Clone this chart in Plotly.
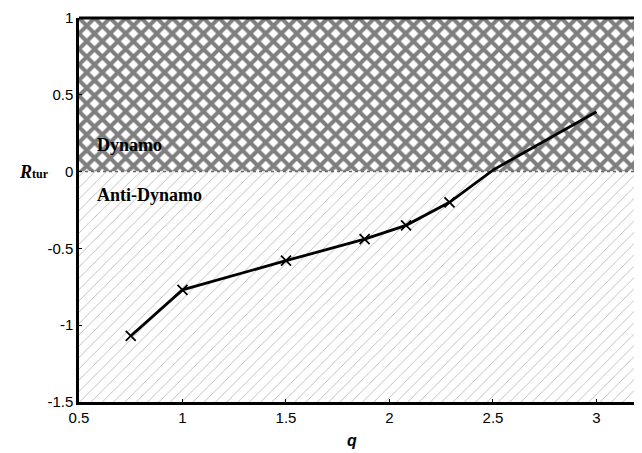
import plotly.graph_objects as go

# Data
q = [0.75, 1.0, 1.5, 1.88, 2.08, 2.29, 2.5, 3.0]
r_tur = [-1.07, -0.77, -0.58, -0.44, -0.35, -0.20, 0.01, 0.39]
marked = [True, True, True, True, True, True, False, False]

x_range = [0.5, 3.22]
y_range = [-1.5, 1.0]
boundary = 0.0
x_ticks = [0.5, 1, 1.5, 2, 2.5, 3]
x_tick_text = ["0.5", "1", "1.5", "2", "2.5", "3"]
y_ticks = [-1.5, -1, -0.5, 0, 0.5, 1]
y_tick_text = ["-1.5", "-1", "-0.5", "0", "0.5", "1"]

fig = go.Figure()

box_x = [x_range[0], x_range[1], x_range[1], x_range[0], x_range[0]]

# Dynamo region (dark crosshatch)
fig.add_trace(go.Scatter(
    x=box_x, y=[boundary, boundary, y_range[1], y_range[1], boundary],
    fill="toself", mode="none", hoverinfo="skip", showlegend=False,
    fillcolor="white",
    fillpattern=dict(shape="x", fgcolor="black", bgcolor="white", size=11, solidity=0.6),
))
# Anti-Dynamo region (light dotted diagonal)
fig.add_trace(go.Scatter(
    x=box_x, y=[y_range[0], y_range[0], boundary, boundary, y_range[0]],
    fill="toself", mode="none", hoverinfo="skip", showlegend=False,
    fillcolor="white",
    fillpattern=dict(shape="/", fgcolor="#666666", bgcolor="white", size=8, solidity=0.1),
))

# Boundary line
fig.add_trace(go.Scatter(
    x=x_range, y=[boundary, boundary], mode="lines", hoverinfo="skip", showlegend=False,
    line=dict(color="#666666", width=1.5, dash="dot"),
))

# Data line
fig.add_trace(go.Scatter(
    x=q, y=r_tur, mode="lines", showlegend=False,
    line=dict(color="black", width=2.8),
))
fig.add_trace(go.Scatter(
    x=[a for a, m in zip(q, marked) if m], y=[b for b, m in zip(r_tur, marked) if m],
    mode="markers", showlegend=False,
    marker=dict(symbol="x-thin", size=10, line=dict(color="black", width=1.8)),
))

fig.add_annotation(x=0.575, y=0.175, xref="x", yref="y", text="<b>Dynamo</b>", showarrow=False,
                   xanchor="left", font=dict(family="Liberation Serif", size=18, color="black"))
fig.add_annotation(x=0.575, y=-0.15, xref="x", yref="y", text="<b>Anti-Dynamo</b>", showarrow=False,
                   xanchor="left", font=dict(family="Liberation Serif", size=18, color="black"))
fig.add_annotation(x=-0.05, y=0, xref="paper", yref="y",
                   text="<b><i>R</i></b><span style='font-size:12px'><b>tur</b></span>",
                   showarrow=False, xanchor="right", yanchor="middle",
                   font=dict(family="Liberation Serif", size=18, color="black"))
fig.add_annotation(x=0.485, y=-0.1, xref="paper", yref="paper",
                   text="<b><i>q</i></b>", showarrow=False, xanchor="center", yanchor="middle",
                   font=dict(family="Liberation Sans", size=16, color="black"))

fig.update_xaxes(range=x_range, tickvals=x_ticks, ticktext=x_tick_text,
                 showgrid=False, zeroline=False, showline=True, linecolor="black", linewidth=2.5,
                 ticks="inside", ticklen=3, tickcolor="black",
                 tickfont=dict(family="Liberation Sans", size=15, color="black"))
fig.update_yaxes(range=y_range, tickvals=y_ticks, ticktext=y_tick_text,
                 showgrid=False, zeroline=False, showline=True, linecolor="black", linewidth=2.5,
                 ticks="inside", ticklen=3, tickcolor="black",
                 tickfont=dict(family="Liberation Sans", size=15, color="black"))

fig.add_shape(type="line", xref="paper", yref="paper", x0=0, x1=1, y0=1, y1=1,
              line=dict(color="black", width=3))

# page body has an 8px margin, so the figure is shifted by (8, 8) in the window
fig.update_layout(width=634, height=445, margin=dict(l=71, r=0, t=10, b=51),
                  plot_bgcolor="white", paper_bgcolor="white")

fig.write_html("out.html")
